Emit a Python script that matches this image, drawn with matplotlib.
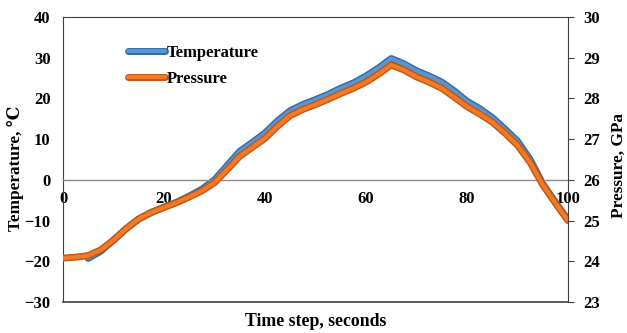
import matplotlib.pyplot as plt
import matplotlib.patheffects as pe

# time step (s) and readings
temp_x = [5, 7.5, 10, 12.5, 15, 17.5, 20, 22.5, 25, 27.5, 30, 32.5, 35, 37.5, 40, 42.5,
          45, 47.5, 50, 52.5, 55, 57.5, 60, 62.5, 65, 67.5, 70, 72.5, 75, 77.5, 80,
          82.5, 85, 87.5, 90, 92.5, 95, 97.5, 100]
temp_y = [-19.3, -17.5, -14.8, -12.0, -9.6, -8.0, -6.7, -5.5, -4.0, -2.3, 0.0, 3.5, 7.0,
          9.2, 11.5, 14.5, 17.0, 18.5, 19.7, 21.0, 22.5, 23.8, 25.5, 27.5, 29.8, 28.5,
          26.8, 25.5, 24.0, 21.8, 19.3, 17.5, 15.3, 12.5, 9.5, 5.0, -1.0, -5.5, -9.8]

pres_x = [0, 2.5, 5, 7.5, 10, 12.5, 15, 17.5, 20, 22.5, 25, 27.5, 30, 32.5, 35, 37.5, 40,
          42.5, 45, 47.5, 50, 52.5, 55, 57.5, 60, 62.5, 65, 67.5, 70, 72.5, 75, 77.5,
          80, 82.5, 85, 87.5, 90, 92.5, 95, 97.5, 100]
pres_y = [24.08, 24.10, 24.14, 24.28, 24.52, 24.80, 25.04, 25.20, 25.32, 25.44, 25.58,
          25.73, 25.93, 26.25, 26.58, 26.80, 27.02, 27.32, 27.58, 27.73, 27.85, 27.98,
          28.12, 28.25, 28.40, 28.60, 28.82, 28.70, 28.53, 28.40, 28.25, 28.03, 27.80,
          27.62, 27.42, 27.15, 26.85, 26.43, 25.88, 25.43, 25.00]

x_ticks = [0, 20, 40, 60, 80, 100]

serif = ['Liberation Serif', 'DejaVu Serif']
plt.rcParams['font.family'] = serif
plt.rcParams['font.weight'] = 'bold'

fig = plt.figure(figsize=(6.27, 3.33), dpi=100)
ax = fig.add_axes([63 / 627, 1 - 302 / 333, 505 / 627, 285 / 333])
ax2 = ax.twinx()

frame = '#404040'
blue_fx = [pe.Stroke(linewidth=5.0, foreground='#2f6aa8'), pe.Normal()]
orange_fx = [pe.Stroke(linewidth=5.0, foreground='#c5560e'), pe.Normal()]

ln1, = ax.plot(temp_x, temp_y, color='#5b95d0', lw=3.0, solid_joinstyle='round',
               solid_capstyle='round', path_effects=blue_fx, label='Temperature')
ln2, = ax2.plot(pres_x, pres_y, color='#ee7a2a', lw=3.0, solid_joinstyle='round',
                solid_capstyle='round', path_effects=orange_fx, label='Pressure')

ax.set_xlim(0, 100)
ax.set_ylim(-30, 40)
ax2.set_ylim(23, 30)
ax.set_yticks(range(-30, 41, 10))
ax2.set_yticks(range(23, 31))

# x axis crosses at 0
ax.spines['bottom'].set_position(('data', 0))
ax.spines['bottom'].set_color('#8c8c8c')
ax.spines['bottom'].set_linewidth(1.0)
ax.axhline(-30, color=frame, lw=1.2, clip_on=False, zorder=5)
ax.set_xticks(x_ticks)
ax.tick_params(axis='x', length=0, pad=8, labelsize=12)
ax.tick_params(axis='y', length=0, pad=9, labelsize=12)
ax2.tick_params(axis='y', length=4, direction='out', pad=7, labelsize=12, color=frame)
for s in ['top', 'left']:
    ax.spines[s].set_color(frame)
for s in ['top', 'left', 'right', 'bottom']:
    ax2.spines[s].set_visible(False)
ax2.spines['right'].set_visible(True)
ax2.spines['right'].set_color(frame)
ax.spines['right'].set_visible(False)

ax.set_ylabel('Temperature, ℃', fontsize=12.4, fontweight='bold')
ax.yaxis.set_label_coords(-0.077, 0.47)
ax2.set_ylabel('Pressure, GPa', fontsize=12.4, fontweight='bold')
ax2.yaxis.set_label_coords(1.084, 0.48)
fig.text(315.5 / 627, 1 - 322 / 333, 'Time step, seconds', ha='center', va='center',
         fontsize=12.8, fontweight='bold')

ax2.legend([ln1, ln2], ['Temperature', 'Pressure'], loc='upper left',
           bbox_to_anchor=(0.129, 0.903), frameon=False, borderpad=0, borderaxespad=0,
           handlelength=2.2, handletextpad=0.1, labelspacing=0.62,
           prop={'size': 12, 'weight': 'bold'})

fig.savefig('out.png', dpi=100)
